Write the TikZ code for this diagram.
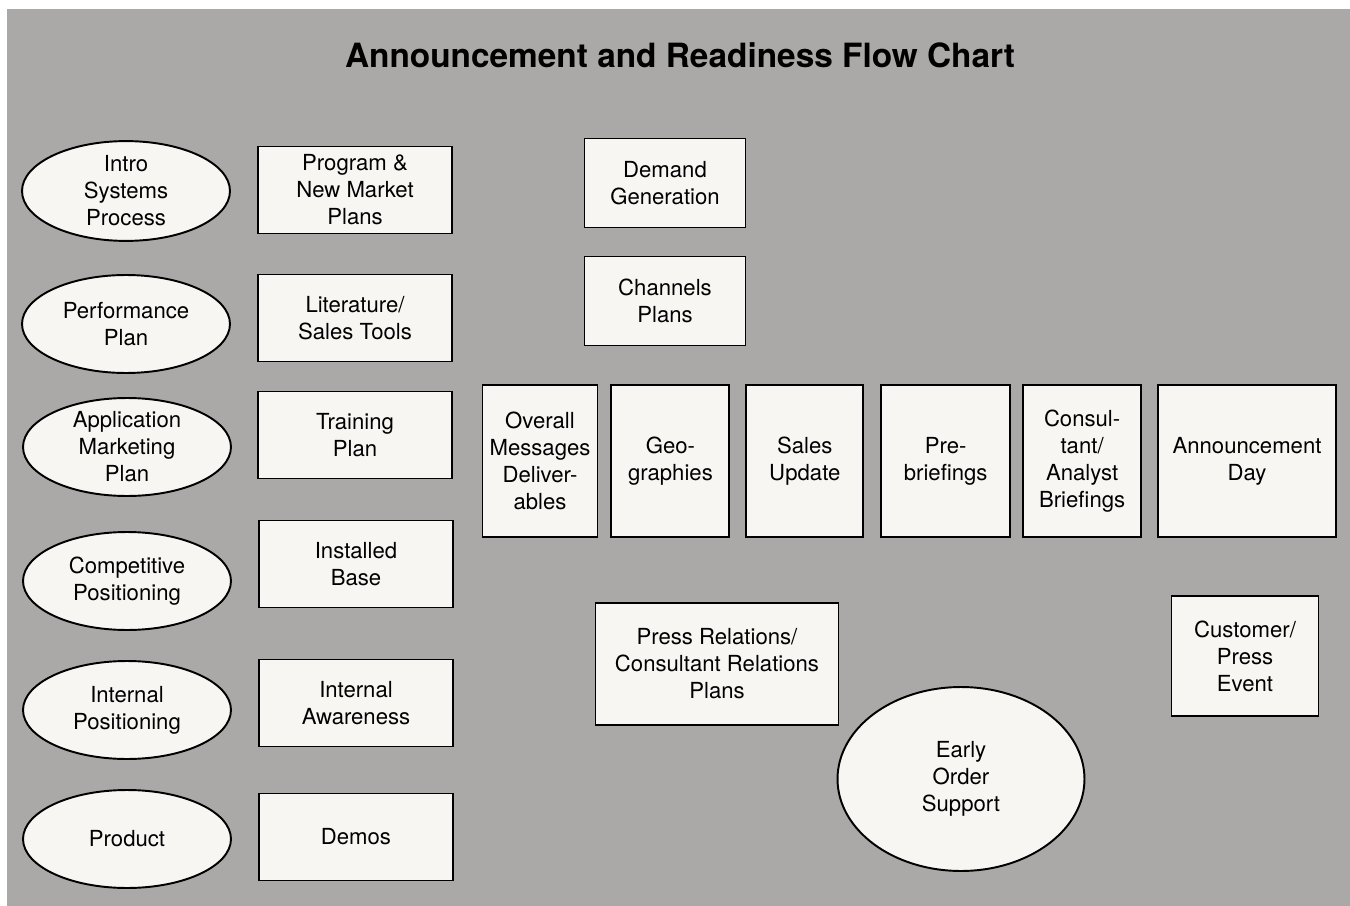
\documentclass[tikz,border=0pt]{standalone}
\usepackage{fontspec}
\setmainfont{TeX Gyre Heros}
\usepackage{tikz}
\usetikzlibrary{shapes.geometric, positioning}
\definecolor{paper}{RGB}{171,169,167}
\definecolor{card}{RGB}{247,246,243}

\begin{document}
\begin{tikzpicture}
	[x=0.02cm, y=-0.02cm,
	 txt/.style={font=\fontsize{12.6}{15.4}\selectfont, align=center},
	 box/.style={txt, rectangle, draw, fill=card, line width=1.1pt, inner sep=1pt},
	 oval/.style={txt, ellipse, draw, fill=card, line width=1.1pt, inner sep=0pt,
	   minimum width=4.16cm, minimum height=1.96cm},
	 plan/.style={box, minimum width=3.88cm, minimum height=1.74cm},
	 tall/.style={box, minimum height=3.04cm}]
   \useasboundingbox (0,0) rectangle (1350,906);
   \fill[paper] (7,9) rectangle (1350,906);

   \node[font=\bfseries\fontsize{19}{22}\selectfont] (title) at (680,55)
      {Announcement and Readiness Flow Chart};

   % left column
   \node[oval] (intro) at (126,191) {Intro\\Systems\\Process};
   \node[oval] (perf) at (126,324) {Performance\\Plan};
   \node[oval, inner ysep=-6pt] (appl) at (127,447) {Application\\Marketing\\Plan};
   \node[oval] (comp) at (127,581) {Competitive\\Positioning};
   \node[oval] (intpos) at (127,710) {Internal\\Positioning};
   \node[oval] (prod) at (127,839) {Product};

   % second column
   \node[plan] (prog) at (355,190) {Program \&\\New Market\\Plans};
   \node[plan] (lit) at (355,318) {Literature/\\Sales Tools};
   \node[plan] (train) at (355,435) {Training\\Plan};
   \node[plan] (inst) at (356,564) {Installed\\Base};
   \node[plan] (aware) at (356,703) {Internal\\Awareness};
   \node[plan] (demos) at (356,837) {Demos};

   \node[box, minimum width=3.22cm, minimum height=1.78cm] (demand) at (665,183) {Demand\\Generation};
   \node[box, minimum width=3.22cm, minimum height=1.78cm] (chan) at (665,301) {Channels\\Plans};

   % the row
   \node[tall, minimum width=2.30cm] (ovr) at (540,461) {Overall\\Messages\\Deliver-\\ables};
   \node[tall, minimum width=2.36cm] (geo) [right=0.24cm of ovr] {Geo-\\graphies};
   \node[tall, minimum width=2.34cm] (sales) [right=0.30cm of geo] {Sales\\Update};
   \node[tall, minimum width=2.58cm] (pre) [right=0.32cm of sales] {Pre-\\briefings};
   \node[tall, minimum width=2.36cm] (cons) [right=0.22cm of pre] {Consul-\\tant/\\Analyst\\Briefings};
   \node[tall, minimum width=3.56cm] (aday) [right=0.30cm of cons] {Announcement\\Day};

   \node[box, minimum width=4.86cm, minimum height=2.44cm] (press) at (717,664)
      {Press Relations/\\Consultant Relations\\Plans};
   \node[oval, minimum width=4.94cm, minimum height=3.68cm] (early) at (961,779) {Early\\Order\\Support};
   \node[box, minimum width=2.94cm, minimum height=2.40cm] (cust) at (1245,656) {Customer/\\Press\\Event};
\end{tikzpicture}
\end{document}
